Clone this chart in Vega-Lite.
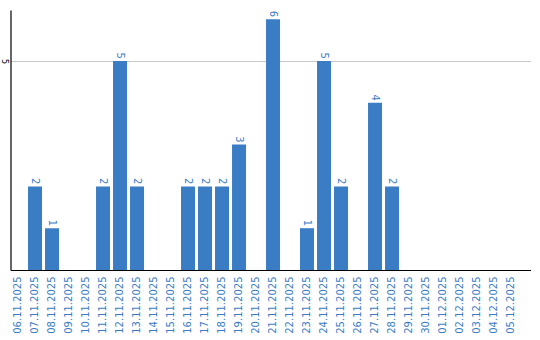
{
  "$schema": "https://vega.github.io/schema/vega-lite/v6.json",
  "autosize": "none",
  "width": 520,
  "height": 260,
  "padding": {"left": 10.5, "top": 10, "right": 9.5, "bottom": 70},
  "background": "white",
  "config": {"view": {"stroke": null}, "font": "DejaVu Sans"},
  "data": {"values": [
    {"date": "06.11.2025", "value": 0},
    {"date": "07.11.2025", "value": 2},
    {"date": "08.11.2025", "value": 1},
    {"date": "09.11.2025", "value": 0},
    {"date": "10.11.2025", "value": 0},
    {"date": "11.11.2025", "value": 2},
    {"date": "12.11.2025", "value": 5},
    {"date": "13.11.2025", "value": 2},
    {"date": "14.11.2025", "value": 0},
    {"date": "15.11.2025", "value": 0},
    {"date": "16.11.2025", "value": 2},
    {"date": "17.11.2025", "value": 2},
    {"date": "18.11.2025", "value": 2},
    {"date": "19.11.2025", "value": 3},
    {"date": "20.11.2025", "value": 0},
    {"date": "21.11.2025", "value": 6},
    {"date": "22.11.2025", "value": 0},
    {"date": "23.11.2025", "value": 1},
    {"date": "24.11.2025", "value": 5},
    {"date": "25.11.2025", "value": 2},
    {"date": "26.11.2025", "value": 0},
    {"date": "27.11.2025", "value": 4},
    {"date": "28.11.2025", "value": 2},
    {"date": "29.11.2025", "value": 0},
    {"date": "30.11.2025", "value": 0},
    {"date": "01.12.2025", "value": 0},
    {"date": "02.12.2025", "value": 0},
    {"date": "03.12.2025", "value": 0},
    {"date": "04.12.2025", "value": 0},
    {"date": "05.12.2025", "value": 0}
  ]},
  "encoding": {
    "x": {
      "field": "date", "type": "ordinal", "sort": null,
      "scale": {"paddingInner": 0.176, "paddingOuter": 0.382, "align": 0.04},
      "axis": {
        "title": null, "labelAngle": -90, "labelAlign": "right", "labelBaseline": "middle",
        "labelColor": "#3b7dc4", "labelFontSize": 10, "labelPadding": 6,
        "ticks": false, "domainColor": "#000000", "domainWidth": 1.2, "grid": false
      }
    },
    "y": {
      "field": "value", "type": "quantitative",
      "scale": {"domain": [0, 6.22], "nice": false},
      "axis": {
        "title": null, "values": [5], "ticks": false, "labelAngle": 90,
        "labelAlign": "center", "labelBaseline": "middle", "labelPadding": 7,
        "labelFontSize": 8, "labelColor": "#000000",
        "domainColor": "#000000", "domainWidth": 1.2,
        "grid": true, "gridColor": "#c8c8c8", "gridWidth": 1
      }
    }
  },
  "layer": [
    {"mark": {"type": "bar", "color": "#3b7dc4"}},
    {
      "transform": [{"filter": "datum.value > 0"}],
      "mark": {"type": "text", "angle": 90, "align": "right", "baseline": "middle", "yOffset": -2, "color": "#3b7dc4", "fontSize": 10},
      "encoding": {"text": {"field": "value", "type": "quantitative"}}
    }
  ]
}
